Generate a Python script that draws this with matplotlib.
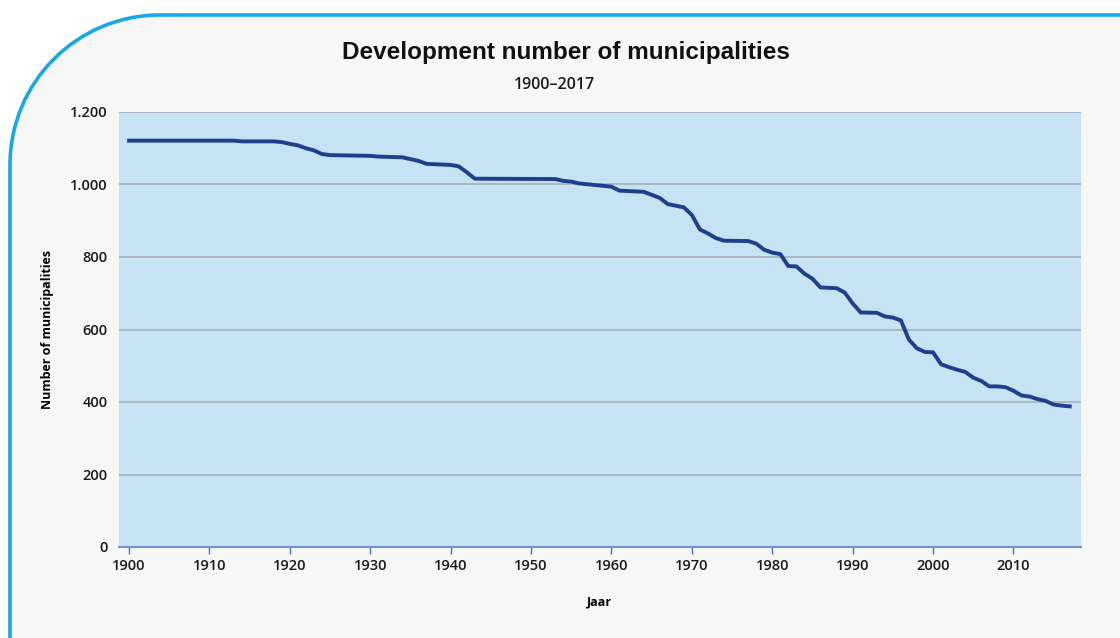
import numpy as np
import matplotlib
matplotlib.use("Agg")
import matplotlib.pyplot as plt
from matplotlib.patches import PathPatch
from matplotlib.path import Path
from matplotlib.ticker import FuncFormatter

# Number of municipalities per year
years = [1900, 1913, 1914, 1918, 1919, 1920, 1921, 1922, 1923, 1924, 1925, 1930,
         1931, 1934, 1936, 1937, 1940, 1941, 1942, 1943, 1953, 1954, 1955, 1956,
         1960, 1961, 1964, 1966, 1967, 1969, 1970, 1971, 1972, 1973, 1974, 1977,
         1978, 1979, 1980, 1981, 1982, 1983, 1984, 1985, 1986, 1988, 1989, 1990,
         1991, 1993, 1994, 1995, 1996, 1997, 1998, 1999, 2000, 2001, 2002, 2003,
         2004, 2005, 2006, 2007, 2008, 2009, 2010, 2011, 2012, 2013, 2014, 2015,
         2016, 2017]
counts = [1121, 1121, 1119, 1119, 1117, 1112, 1108, 1100, 1094, 1084, 1081, 1079,
          1077, 1075, 1065, 1057, 1054, 1050, 1034, 1016, 1015, 1010, 1008, 1003,
          994, 983, 980, 963, 946, 937, 916, 876, 865, 852, 845, 844,
          837, 820, 812, 808, 775, 774, 754, 740, 716, 714, 702, 672,
          647, 646, 636, 633, 625, 572, 548, 538, 537, 504, 496, 489,
          483, 467, 458, 443, 443, 441, 431, 418, 415, 408, 403, 393,
          390, 388]

x_ticks = list(range(1900, 2011, 10))
y_ticks = [0, 200, 400, 600, 800, 1000, 1200]

W, H = 1120, 638
fig = plt.figure(figsize=(W / 100, H / 100), dpi=100)
fig.patch.set_facecolor("white")

# decorative frame with rounded top-left corner
bg = fig.add_axes([0, 0, 1, 1], zorder=0)
bg.set_xlim(0, W)
bg.set_ylim(H, 0)
bg.axis("off")
r = 150
left, top = 10, 15
k = 0.5523 * r
verts = [(left, H + 5), (left, top + r),
         (left, top + r - k), (left + r - k, top), (left + r, top),
         (W + 5, top), (W + 5, H + 5), (left, H + 5)]
codes = [Path.MOVETO, Path.LINETO, Path.CURVE4, Path.CURVE4, Path.CURVE4,
         Path.LINETO, Path.LINETO, Path.CLOSEPOLY]
bg.add_patch(PathPatch(Path(verts, codes), facecolor="#f7f7f7", edgecolor="none"))
edge = Path(verts[:6], codes[:6])
bg.add_patch(PathPatch(edge, facecolor="none", edgecolor="#18a8e6", lw=2.6))

ax = fig.add_axes([119 / W, 1 - 547 / H, (1081 - 119) / W, (547 - 112) / H], zorder=1)
ax.set_facecolor("#c6e2f3")
ax.plot(years, counts, color="#1f3e8c", lw=2.8, solid_joinstyle="round", zorder=3)

ax.set_xlim(1898.75, 2018.4)
ax.set_ylim(0, 1200)
ax.set_xticks(x_ticks)
ax.set_yticks(y_ticks)
ax.yaxis.set_major_formatter(FuncFormatter(lambda v, p: f"{int(v):,}".replace(",", ".")))
ax.grid(axis="y", color="#aab4bb", lw=1.3)
ax.set_axisbelow(True)
for s in ["top", "right", "left"]:
    ax.spines[s].set_visible(False)
ax.spines["bottom"].set_color("#6f93d3")
ax.spines["bottom"].set_linewidth(1.5)
ax.tick_params(axis="x", colors="#3d6fc4", length=5, width=1, labelcolor="#1a1a1a",
               labelsize=10.5, pad=4)
ax.tick_params(axis="y", length=0, labelcolor="#1a1a1a", labelsize=10.5, pad=8)
for lbl in ax.get_xticklabels() + ax.get_yticklabels():
    lbl.set_fontweight("semibold")
    lbl.set_family("Open Sans")

ax.set_xlabel("Jaar", fontsize=9, fontweight="bold", family="Open Sans", labelpad=16)
ax.set_ylabel("Number of municipalities", fontsize=9, fontweight="bold",
              family="Open Sans", labelpad=12)

fig.text(566 / W, 1 - 53 / H, "Development number of municipalities", ha="center",
         va="center", fontsize=17.5, fontweight="bold", family="Liberation Sans",
         color="#111111")
fig.text(554 / W, 1 - 85 / H, "1900\u20132017", ha="center", va="center",
         fontsize=11.5, fontweight="semibold", family="Open Sans", color="#1a1a1a")

fig.savefig("out.png", dpi=100, facecolor=fig.get_facecolor())
